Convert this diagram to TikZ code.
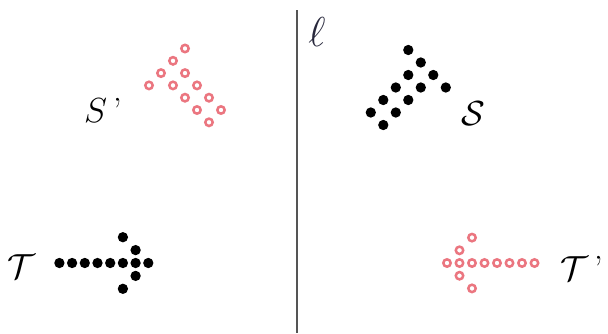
\documentclass[tikz,border=0pt]{standalone}
\usepackage{amsmath,amssymb}
\usetikzlibrary{positioning}
\definecolor{ringpink}{RGB}{235,118,128}
\definecolor{axisgray}{RGB}{85,85,85}
\definecolor{elltext}{RGB}{40,40,60}

\begin{document}
\begin{tikzpicture}[x=1pt, y=-1pt,
    blackdot/.style={circle, fill=black, inner sep=0pt, minimum size=10.3pt},
    pinkring/.style={circle, draw=ringpink, fill=white, line width=2.5pt, inner sep=0pt, minimum size=7.4pt},
    lbl/.style={font=\Huge, scale=1.4, inner sep=0pt}]
  \useasboundingbox (0,0) rectangle (608,333);

  % line of reflection
  \coordinate (ltop) at (296.7,10);
  \coordinate (lbot) at (296.7,333);
  \draw[axisgray, line width=2pt] (ltop) -- (lbot);
  \node[lbl, scale=1.2, text=elltext] (ell) at (317,32) {$\ell$};

  % figure S and its image S'
  \foreach \a/\b [count=\i] in {0/0,1/0,2/0,3/0,4/0,0/-1,1/-1,2/-1,3/-1,4/-1,4/-2,4/1}
    \node[blackdot] (s-\i) at ({383.3+12.5*(\a+\b)},{125-12.5*\a+12.5*\b}) {};
  \foreach \a/\b [count=\i] in {0/0,1/0,2/0,3/0,4/0,0/-1,1/-1,2/-1,3/-1,4/-1,4/-2,4/1}
    \node[pinkring] (sp-\i) at ({209-12*(\a+\b)},{122.3-12.3*\a+12.3*\b}) {};
  \node[lbl] (S) at (473,114) {$\mathcal{S}$};
  \node[lbl] (Sp) at (103,110) {$S$\,'};

  % figure T and its image T'
  \foreach \k/\j [count=\i] in {0/0,1/0,2/0,3/0,4/0,5/0,6/0,7/0,1/-1,1/1,2/-2,2/2}
    \node[blackdot] (t-\i) at ({148.3-12.7*\k},{263+12.9*\j}) {};
  \foreach \k/\j [count=\i] in {0/0,1/0,2/0,3/0,4/0,5/0,6/0,7/0,1/-1,1/1,2/-2,2/2}
    \node[pinkring] (tp-\i) at ({447+12.5*\k},{263+12.7*\j}) {};
  \node[lbl] (T) at (21,267) {$\mathcal{T}$};
  \node[lbl] (Tp) at (582,268) {$\mathcal{T}$\,'};
\end{tikzpicture}
\end{document}
